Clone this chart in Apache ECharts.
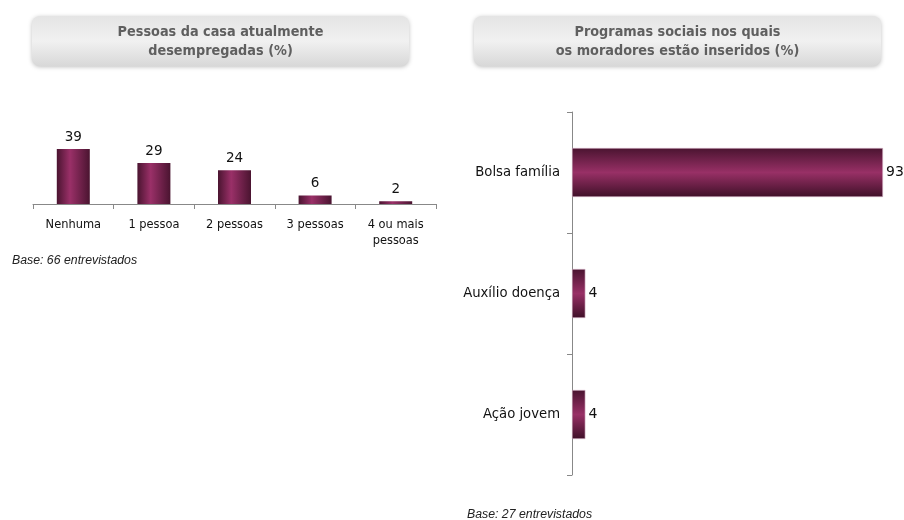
<!DOCTYPE html>
<html>
<head>
<meta charset="utf-8">
<script src="https://cdn.jsdelivr.net/npm/echarts@6/dist/echarts.min.js"></script>
<style>
html,body{margin:0;padding:0;background:#fff;}
#c{width:904px;height:520px;}
</style>
</head>
<body>
<div id="c"></div>
<script>
const leftCategories = ['Nenhuma', '1 pessoa', '2 pessoas', '3 pessoas', '4 ou mais\npessoas'];
const leftValues = [39, 29, 24, 6, 2];
const rightCategories = ['Bolsa família', 'Auxílio doença', 'Ação jovem'];
const rightValues = [93, 4, 4];
const leftTitle = 'Pessoas da casa atualmente\ndesempregadas (%)';
const rightTitle = 'Programas sociais nos quais\nos moradores estão inseridos (%)';
const leftBase = 'Base: 66 entrevistados';
const rightBase = 'Base: 27 entrevistados';

const font = '"DejaVu Sans Condensed", "Liberation Sans", sans-serif';
const vfont = '"DejaVu Sans", sans-serif';
const vGrad = {type:'linear',x:0,y:0,x2:1,y2:0,colorStops:[
  {offset:0,color:'#4a1430'},{offset:0.4,color:'#9a3068'},{offset:1,color:'#4a1430'}]};
const hGrad = {type:'linear',x:0,y:0,x2:0,y2:1,colorStops:[
  {offset:0,color:'#4a1430'},{offset:0.5,color:'#983066'},{offset:1,color:'#3f1028'}]};

function titleBox(x, y, w, h, text) {
  return {
    type:'group', left:x, top:y,
    children:[
      {type:'rect', shape:{x:0,y:0,width:w,height:h,r:8},
       style:{fill:{type:'linear',x:0,y:0,x2:0,y2:1,colorStops:[
         {offset:0,color:'#e4e4e4'},{offset:0.5,color:'#f1f1f1'},{offset:1,color:'#d8d8d8'}]},
         shadowBlur:4, shadowColor:'rgba(0,0,0,0.25)', shadowOffsetY:1}},
      {type:'text', x:w/2, y:h/2 + 1,
       style:{text:text, fill:'#5f5f5f', font:'bold 14.3px "DejaVu Sans Condensed"', align:'center', verticalAlign:'middle', lineHeight:19.5}}
    ]
  };
}

const chart = echarts.init(document.getElementById('c'));
chart.setOption({
  backgroundColor:'#fff',
  animation:false,
  grid:[
    {left:33, width:403, top:133.5, height:70.5},
    {left:572, width:311, top:112, height:363}
  ],
  xAxis:[
    {gridIndex:0, type:'category', data:leftCategories,
     axisLine:{lineStyle:{color:'#888',width:1}},
     axisTick:{show:true,length:5,lineStyle:{color:'#888'}},
     axisLabel:{color:'#111',fontFamily:font,fontSize:12.7,margin:13,lineHeight:16,interval:0}},
    {gridIndex:1, type:'value', min:0, max:93, show:false}
  ],
  yAxis:[
    {gridIndex:0, type:'value', min:0, max:50, show:false},
    {gridIndex:1, type:'category', data:rightCategories, inverse:true,
     axisLine:{lineStyle:{color:'#888',width:1}},
     axisTick:{show:true,length:5,lineStyle:{color:'#888'}},
     axisLabel:{color:'#111',fontFamily:font,fontSize:14.7,margin:12, padding:[4,0,0,0]}}
  ],
  series:[
    {type:'bar', xAxisIndex:0, yAxisIndex:0, data:leftValues, barWidth:33,
     itemStyle:{color:vGrad},
     label:{show:true, position:'top', distance:5, color:'#111', fontFamily:vfont, fontSize:13.5}},
    {type:'bar', xAxisIndex:1, yAxisIndex:1, data:rightValues, barWidth:49,
     itemStyle:{color:hGrad, borderColor:'#d9b6c9', borderWidth:0.6},
     label:{show:true, position:'right', distance:3, color:'#111', fontFamily:vfont, fontSize:14, padding:[3,0,0,0]}}
  ],
  graphic:[
    titleBox(32, 16, 377, 50, leftTitle),
    titleBox(474, 16, 407, 50, rightTitle),
    {type:'text', left:12, top:255, style:{text:leftBase, fill:'#222', font:'italic 12.3px "Liberation Sans"'}},
    {type:'text', left:467, top:509, style:{text:rightBase, fill:'#222', font:'italic 12.3px "Liberation Sans"'}}
  ]
});
</script>
</body>
</html>
